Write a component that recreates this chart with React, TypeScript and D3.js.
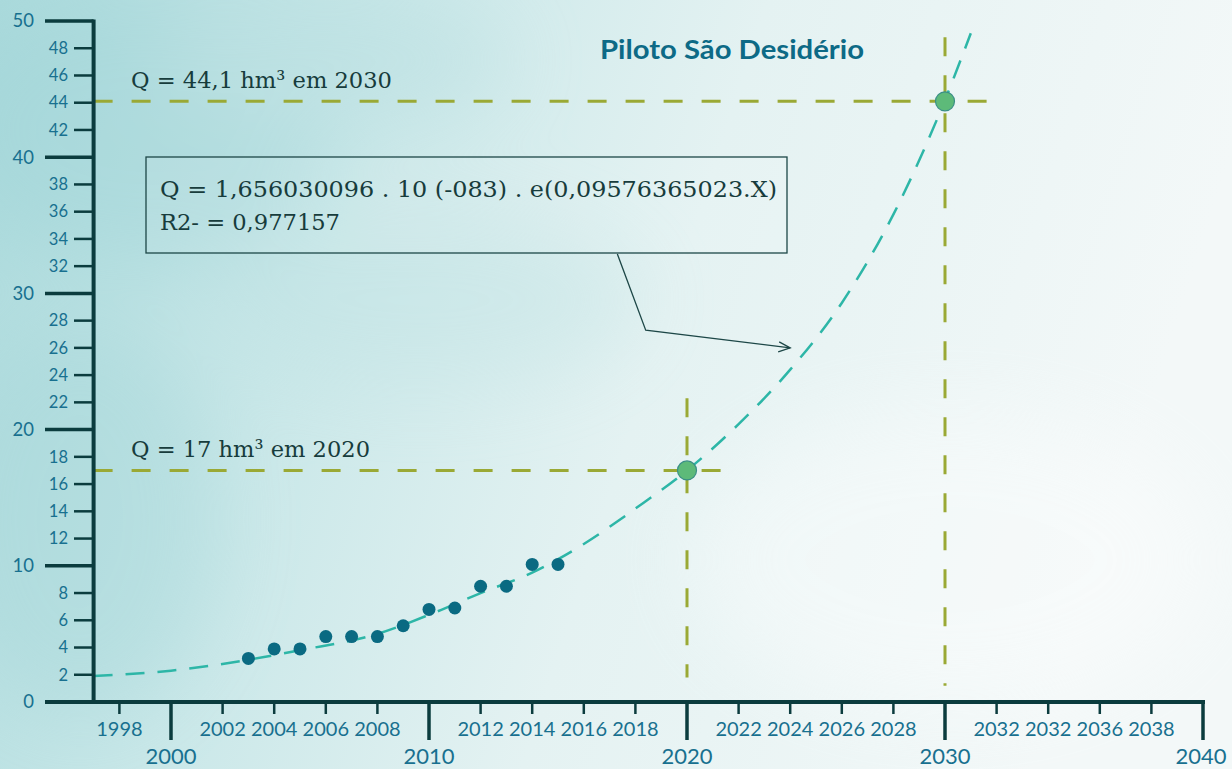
import * as d3 from 'd3';

// observed points (hm³ per year)
const dataYears = [2003, 2004, 2005, 2006, 2007, 2008, 2009, 2010, 2011, 2012, 2013, 2014, 2015];
const dataValues = [3.2, 3.9, 3.9, 4.8, 4.8, 4.8, 5.6, 6.8, 6.9, 8.5, 8.5, 10.1, 10.1];

// fitted exponential curve
const trendYears = [1997, 2000, 2003, 2005, 2008, 2010, 2012, 2014, 2016, 2018, 2020, 2022, 2024, 2026, 2028, 2030, 2031];
const trendValues = [1.9, 2.3, 3.1, 3.8, 5.0, 6.4, 8.0, 9.5, 11.6, 14.2, 17.0, 20.4, 24.4, 29.3, 35.8, 44.2, 49.1];

// projections
const projYears = [2020, 2030];
const projValues = [17, 44.1];
const projLabels = ['Q = 17 hm³ em 2020', 'Q = 44,1 hm³ em 2030'];
const projHEnd = [2021.6, 2032.3];
const projVTop = [22.3, 48.8];
const projVBottom = [1.8, 1.2];

const yMajorTicks = [0, 10, 20, 30, 40, 50];
const yMinorTicks = [2, 4, 6, 8, 12, 14, 16, 18, 22, 24, 26, 28, 32, 34, 36, 38, 42, 44, 46, 48];
const xMajorTicks = [2000, 2010, 2020, 2030, 2040];
const xMinorTicks = [1998, 2002, 2004, 2006, 2008, 2012, 2014, 2016, 2018, 2022, 2024, 2026, 2028, 2032, 2034, 2036, 2038];
const xMinorLabels = ['1998', '2002', '2004', '2006', '2008', '2012', '2014', '2016', '2018', '2022', '2024', '2026', '2028', '2032', '2032', '2036', '2038'];

const title = 'Piloto São Desidério';
const equationLines = ['Q = 1,656030096 . 10 (-083) . e(0,09576365023.X)', 'R2- = 0,977157'];

// arrow from the equation box to the curve, in data units
const arrowYears = [2017.3, 2018.4, 2024.0];
const arrowValues = [32.9, 27.3, 26.0];

const W = 1232;
const H = 769;
const serif = '"DejaVu Serif Condensed", "DejaVu Serif", serif';

export default function App() {
  const x = d3.scaleLinear().domain([2000, 2040]).range([171, 1203]);
  const y = d3.scaleLinear().domain([0, 50]).range([702, 21]);
  const axisX = x(1997);
  const axisColor = '#0b3c3e';
  const tickText = '#18708f';
  const olive = '#9aa935';
  const dark = '#173c3c';

  const trendLine = d3.line<number>()
    .x((_, i) => x(trendYears[i]))
    .y(d => y(d))
    .curve(d3.curveMonotoneX);

  const arrowLine = d3.line<number>()
    .x((_, i) => x(arrowYears[i]))
    .y(d => y(d));

  const ax = x(arrowYears[2]);
  const ay = y(arrowValues[2]);
  const labelWidths = [239, 261];

  return (
    <div style={{ position: 'absolute', left: 0, top: 0 }}>
      <svg width={W} height={H} style={{ display: 'block' }}>
        <defs>
          <linearGradient id="bg" x1="0" y1="0" x2="1" y2="0.2">
            <stop offset="0" stopColor="#abdadc" />
            <stop offset="0.3" stopColor="#c8e7e8" />
            <stop offset="0.6" stopColor="#e4f2f2" />
            <stop offset="1" stopColor="#f3f8f8" />
          </linearGradient>
          <filter id="blur" x="-50%" y="-50%" width="200%" height="200%">
            <feGaussianBlur stdDeviation="40" />
          </filter>
        </defs>
        <rect width={W} height={H} fill="url(#bg)" />
        <g filter="url(#blur)" opacity={0.35}>
          <ellipse cx={140} cy={130} rx={200} ry={140} fill="#9ad2d5" />
          <ellipse cx={80} cy={520} rx={140} ry={200} fill="#a0d4d7" />
          <ellipse cx={420} cy={300} rx={220} ry={90} fill="#bfe2e3" />
          <ellipse cx={330} cy={60} rx={180} ry={70} fill="#b3dcde" />
          <ellipse cx={950} cy={560} rx={260} ry={150} fill="#ffffff" />
        </g>

        {/* projection guides */}
        {projYears.map((yr, i) => (
          <g key={yr} stroke={olive} strokeWidth={3} strokeDasharray="19 19" fill="none">
            <line x1={axisX} x2={x(projHEnd[i])} y1={y(projValues[i])} y2={y(projValues[i])} />
            <line x1={x(yr)} x2={x(yr)} y1={y(projVTop[i])} y2={y(projVBottom[i])} />
          </g>
        ))}

        {/* trend curve */}
        <path d={trendLine(trendValues) ?? ''} fill="none" stroke="#2db6a7" strokeWidth={2.5} strokeDasharray="19 13" />

        {/* y axis */}
        <line x1={axisX} x2={axisX} y1={y(50) - 1.5} y2={y(0)} stroke={axisColor} strokeWidth={4} />
        {yMajorTicks.map(t => (
          <g key={t}>
            <line x1={45} x2={axisX} y1={y(t)} y2={y(t)} stroke={axisColor} strokeWidth={3.5} />
            <text x={34} y={y(t)} dy="0.35em" textAnchor="end" fontFamily="Lato" fontSize={18.5} fill={tickText}>{t}</text>
          </g>
        ))}
        {yMinorTicks.map(t => (
          <g key={t}>
            <line x1={74} x2={axisX} y1={y(t)} y2={y(t)} stroke={axisColor} strokeWidth={2.5} />
            <text x={68} y={y(t)} dy="0.35em" textAnchor="end" fontFamily="Lato" fontSize={16.5} fill={tickText}>{t}</text>
          </g>
        ))}

        {/* x axis */}
        <line x1={45} x2={x(2040) + 2} y1={y(0)} y2={y(0)} stroke={axisColor} strokeWidth={4} />
        {xMajorTicks.map(t => (
          <g key={t}>
            <line x1={x(t)} x2={x(t)} y1={y(0)} y2={740} stroke={axisColor} strokeWidth={3.5} />
            <text x={t === 2040 ? x(t) - 2 : x(t)} y={764} textAnchor="middle" fontFamily="Lato" fontSize={22} fill={tickText}>{t}</text>
          </g>
        ))}
        {xMinorTicks.map((t, i) => (
          <g key={t}>
            <line x1={x(t)} x2={x(t)} y1={y(0)} y2={714} stroke={axisColor} strokeWidth={2.5} />
            <text x={x(t)} y={736} textAnchor="middle" fontFamily="Lato" fontSize={20} fill={tickText}>{xMinorLabels[i]}</text>
          </g>
        ))}

        {/* observed points */}
        {dataValues.map((v, i) => (
          <circle key={dataYears[i]} cx={x(dataYears[i])} cy={y(v)} r={6.5} fill="#0a6a82" />
        ))}

        {/* projected points */}
        {projValues.map((v, i) => (
          <circle key={projYears[i]} cx={x(projYears[i])} cy={y(v)} r={9.5} fill="#5dba79" stroke="#3a8f86" strokeWidth={1.2} />
        ))}

        {/* projection labels */}
        {projLabels.map((s, i) => (
          <text key={s} x={131} y={y(projValues[i]) - 13} fontFamily={serif} fontSize={23} fill={dark}
            textLength={labelWidths[i]} lengthAdjust="spacingAndGlyphs">{s}</text>
        ))}

        {/* equation box */}
        <rect x={146} y={157} width={641} height={96} fill="rgba(255,255,255,0.08)" stroke="#1d4747" strokeWidth={1.3} />
        <text x={160} y={197} fontFamily={serif} fontSize={23} fill={dark} textLength={617} lengthAdjust="spacingAndGlyphs">{equationLines[0]}</text>
        <text x={160} y={230} fontFamily={serif} fontSize={23} fill={dark} textLength={180} lengthAdjust="spacingAndGlyphs">{equationLines[1]}</text>

        {/* arrow */}
        <path d={arrowLine(arrowValues) ?? ''} fill="none" stroke="#1d4747" strokeWidth={1.3} />
        <path d={`M${ax - 11},${ay - 6} L${ax},${ay} L${ax - 12},${ay + 4}`} fill="none" stroke="#1d4747" strokeWidth={1.3} />

        {/* title */}
        <text x={600} y={59} fontFamily="Lato" fontWeight="bold" fontSize={26} fill="#0d6a86" textLength={264} lengthAdjust="spacingAndGlyphs">{title}</text>
      </svg>
    </div>
  );
}
